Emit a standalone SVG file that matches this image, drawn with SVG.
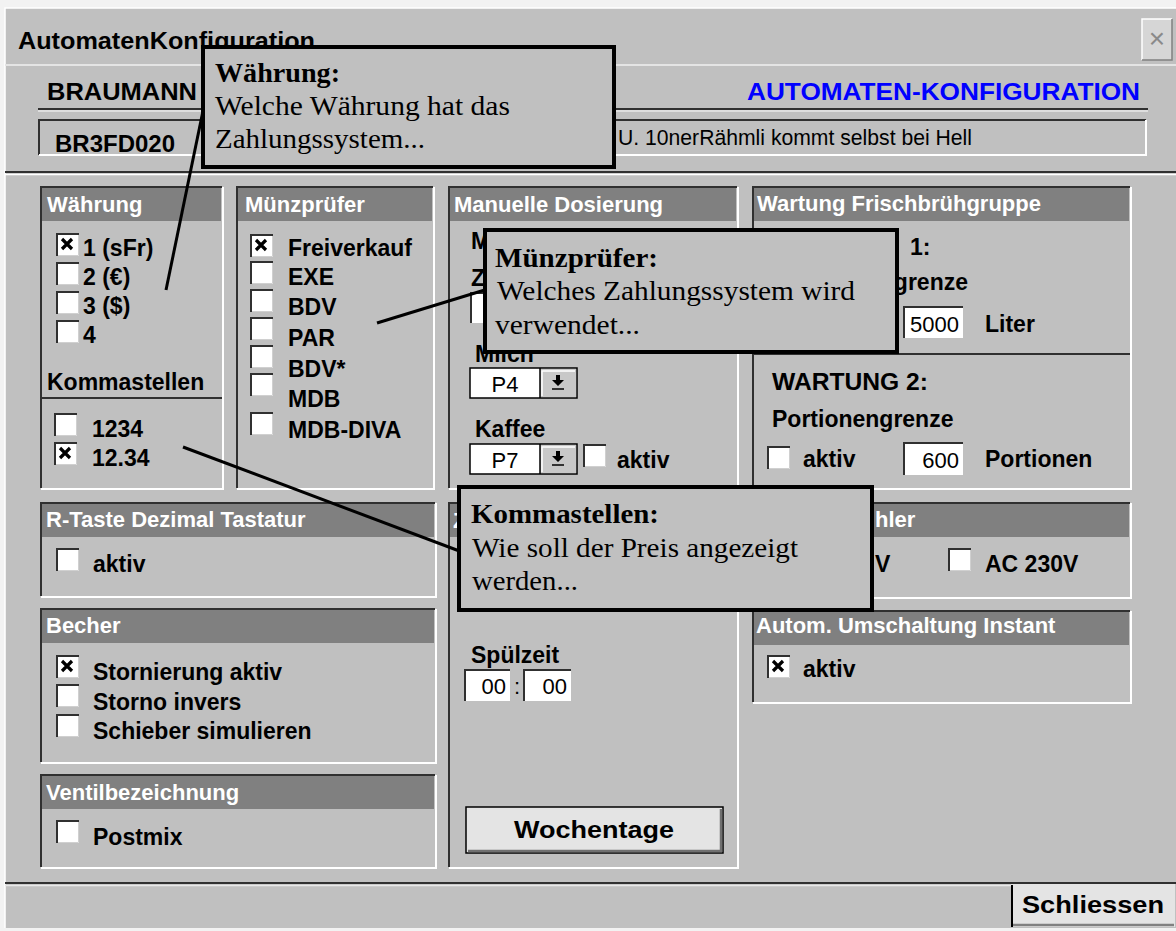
<svg xmlns="http://www.w3.org/2000/svg" width="1176" height="931" viewBox="0 0 1176 931">
<style>
.ht{font-family:"Liberation Sans",Arial,sans-serif;font-weight:bold;font-size:22px;fill:#fff}
.t{font-family:"Liberation Sans",Arial,sans-serif;font-weight:bold;font-size:23px;fill:#000}
.n{font-family:"Liberation Sans",Arial,sans-serif;font-size:22px;fill:#000}
.hdr{fill:#808080}
.dk{stroke:#303030;stroke-width:2;fill:none}
.lt{stroke:#fff;stroke-width:2;fill:none}
.fld{fill:#fff}
.co{fill:#c0c0c0;stroke:#000;stroke-width:4}
.ct{font-family:"Liberation Serif","Times New Roman",serif;font-size:27px;fill:#000}
.cb{font-weight:bold}
.conn line{stroke:#000;stroke-width:3}
</style>
<defs>
<g id="cb"><rect width="23" height="23" fill="#fff"/><path d="M1,23V1H23" stroke="#303030" stroke-width="2" fill="none"/><path d="M2,22.5H22.5V2" stroke="#d0d0d0" stroke-width="1" fill="none"/></g>
<g id="cbx"><use href="#cb"/><path d="M6,6L16,16M16,6L6,16" stroke="#000" stroke-width="3.2"/></g>
<g id="arr"><path d="M-2,-8h4v5h4l-6,6l-6,-6h4z" fill="#000"/><path d="M-6,6h12" stroke="#000" stroke-width="1.5"/></g>
</defs>

<rect width="1176" height="931" fill="#f2f2f2"/>
<g id="dialog">
<rect x="5" y="8" width="1171" height="920" fill="#c0c0c0"/>
<path d="M5,928V8H1176" stroke="#fff" stroke-width="1.5" fill="none"/>
<line x1="5" y1="65" x2="1176" y2="65" stroke="#e4e4e4" stroke-width="2"/>
<text x="18" y="49" class="t" font-size="22" textLength="297" lengthAdjust="spacingAndGlyphs">AutomatenKonfiguration</text>
<rect x="1142" y="19" width="30" height="41" fill="#d6d6d6"/>
<path d="M1142,60V19H1172" stroke="#fff" stroke-width="1.5" fill="none"/>
<path d="M1172,19V60H1142" stroke="#808080" stroke-width="1.5" fill="none"/>
<text x="1157" y="48" font-family="Liberation Sans,sans-serif" font-size="28" fill="#8a8a8a" text-anchor="middle">×</text>
</g>

<g id="header">
<text x="47" y="100" class="t" font-size="24" textLength="150" lengthAdjust="spacingAndGlyphs">BRAUMANN</text>
<text x="747" y="100" class="t" font-size="24" fill="#0000ff" style="fill:#0000ff" textLength="393" lengthAdjust="spacingAndGlyphs">AUTOMATEN-KONFIGURATION</text>
<line x1="38" y1="109" x2="1148" y2="109" stroke="#303030" stroke-width="2"/>
<line x1="38" y1="111" x2="1148" y2="111" stroke="#e8e8e8" stroke-width="1.5"/>
<path d="M39,155V120H1146" class="dk"/>
<path d="M1146,120V155H39" class="lt"/>
<text x="55" y="152" class="t" font-size="24" textLength="120" lengthAdjust="spacingAndGlyphs">BR3FD020</text>
<text x="618" y="145" class="n" textLength="354" lengthAdjust="spacingAndGlyphs">U. 10nerRähmli kommt selbst bei Hell</text>
<line x1="5" y1="172" x2="1176" y2="172" stroke="#303030" stroke-width="2"/>
<line x1="5" y1="174.5" x2="1176" y2="174.5" stroke="#fff" stroke-width="1.5"/>
</g>

<g id="panel-waehrung">
<rect x="42" y="188" width="179" height="33" class="hdr"/>
<path d="M41,488V187H222" class="dk"/><path d="M223,187V489H41" class="lt"/>
<text x="47" y="212" class="ht">Währung</text>
<use href="#cbx" x="56" y="233"/><text x="83" y="256" class="t">1 (sFr)</text>
<use href="#cb" x="56" y="262"/><text x="83" y="285" class="t">2 (€)</text>
<use href="#cb" x="56" y="291"/><text x="83" y="314" class="t">3 ($)</text>
<use href="#cb" x="56" y="320"/><text x="83" y="343" class="t">4</text>
<text x="47" y="390" class="t">Kommastellen</text>
<line x1="41" y1="398" x2="222" y2="398" stroke="#303030" stroke-width="2"/>
<use href="#cb" x="54" y="413"/><text x="92" y="437" class="t">1234</text>
<use href="#cbx" x="54" y="442"/><text x="92" y="466" class="t">12.34</text>
</g>

<g id="panel-muenzpruefer">
<rect x="238" y="188" width="194" height="33" class="hdr"/>
<path d="M237,488V187H433" class="dk"/><path d="M434,187V489H237" class="lt"/>
<text x="245" y="212" class="ht">Münzprüfer</text>
<use href="#cbx" x="250" y="234"/><text x="288" y="256" class="t">Freiverkauf</text>
<use href="#cb" x="250" y="261"/><text x="288" y="285" class="t">EXE</text>
<use href="#cb" x="250" y="289"/><text x="288" y="315" class="t">BDV</text>
<use href="#cb" x="250" y="317"/><text x="288" y="346" class="t">PAR</text>
<use href="#cb" x="250" y="345"/><text x="288" y="377" class="t">BDV*</text>
<use href="#cb" x="250" y="373"/><text x="288" y="407" class="t">MDB</text>
<use href="#cb" x="250" y="412"/><text x="288" y="438" class="t">MDB-DIVA</text>
</g>

<g id="panel-dosierung">
<rect x="450" y="188" width="286" height="33" class="hdr"/>
<path d="M449,488V187H737" class="dk"/><path d="M738,187V489H449" class="lt"/>
<text x="454" y="212" class="ht">Manuelle Dosierung</text>
<text x="471" y="249" class="t">M</text>
<text x="471" y="286" class="t">Z</text>
<rect x="470" y="292" width="40" height="31" class="fld"/><path d="M471,323V293H510" class="dk"/>
<text x="475" y="362" class="t">Milch</text>
<rect x="470" y="368" width="107" height="30" fill="#fff" stroke="#000" stroke-width="1.5"/>
<rect x="540" y="369" width="36" height="28" fill="#c8c8c8"/>
<line x1="540" y1="368" x2="540" y2="398" stroke="#000" stroke-width="1.5"/>
<path d="M542,396V371H575" stroke="#fff" stroke-width="1.5" fill="none"/>
<use href="#arr" x="558" y="383"/>
<text x="505" y="392" class="n" text-anchor="middle">P4</text>
<text x="475" y="437" class="t">Kaffee</text>
<rect x="470" y="444" width="107" height="30" fill="#fff" stroke="#000" stroke-width="1.5"/>
<rect x="540" y="445" width="36" height="28" fill="#c8c8c8"/>
<line x1="540" y1="444" x2="540" y2="474" stroke="#000" stroke-width="1.5"/>
<path d="M542,472V447H575" stroke="#fff" stroke-width="1.5" fill="none"/>
<use href="#arr" x="558" y="459"/>
<text x="505" y="468" class="n" text-anchor="middle">P7</text>
<use href="#cb" x="583" y="444"/><text x="617" y="468" class="t">aktiv</text>
</g>

<g id="panel-wartung">
<rect x="754" y="188" width="375" height="33" class="hdr"/>
<path d="M753,488V187H1130" class="dk"/><path d="M1131,187V489H753" class="lt"/>
<text x="757" y="211" class="ht">Wartung Frischbrühgruppe</text>
<text x="910" y="255" class="t">1:</text>
<text x="968" y="290" class="t" text-anchor="end">grenze</text>
<rect x="903" y="306" width="60" height="32" class="fld"/><path d="M904,338V307H963" class="dk"/>
<text x="959" y="332" class="n" text-anchor="end">5000</text>
<text x="985" y="332" class="t">Liter</text>
<line x1="753" y1="354" x2="1130" y2="354" stroke="#303030" stroke-width="2"/>
<text x="772" y="390" class="t" textLength="156" lengthAdjust="spacingAndGlyphs">WARTUNG 2:</text>
<text x="772" y="427" class="t">Portionengrenze</text>
<use href="#cb" x="767" y="446"/><text x="803" y="467" class="t">aktiv</text>
<rect x="903" y="442" width="60" height="33" class="fld"/><path d="M904,475V443H963" class="dk"/>
<text x="959" y="468" class="n" text-anchor="end">600</text>
<text x="985" y="467" class="t">Portionen</text>
</g>

<g id="panel-rtaste">
<rect x="42" y="504" width="392" height="33" class="hdr"/>
<path d="M41,596V503H435" class="dk"/><path d="M436,503V597H41" class="lt"/>
<text x="46" y="527" class="ht">R-Taste Dezimal Tastatur</text>
<use href="#cb" x="56" y="548"/><text x="93" y="572" class="t">aktiv</text>
</g>

<g id="panel-becher">
<rect x="42" y="610" width="392" height="33" class="hdr"/>
<path d="M41,762V609H435" class="dk"/><path d="M436,609V763H41" class="lt"/>
<text x="46" y="633" class="ht">Becher</text>
<use href="#cbx" x="56" y="655"/><text x="93" y="680" class="t">Stornierung aktiv</text>
<use href="#cb" x="56" y="684"/><text x="93" y="710" class="t">Storno invers</text>
<use href="#cb" x="56" y="714"/><text x="93" y="739" class="t">Schieber simulieren</text>
</g>

<g id="panel-ventil">
<rect x="42" y="776" width="392" height="33" class="hdr"/>
<path d="M41,867V775H435" class="dk"/><path d="M436,775V868H41" class="lt"/>
<text x="46" y="800" class="ht">Ventilbezeichnung</text>
<use href="#cb" x="56" y="820"/><text x="93" y="845" class="t">Postmix</text>
</g>

<g id="panel-z">
<rect x="450" y="504" width="286" height="33" class="hdr"/>
<path d="M449,867V503H737" class="dk"/><path d="M738,503V868H449" class="lt"/>
<text x="453" y="528" class="ht">Z</text>
<text x="471" y="663" class="t">Spülzeit</text>
<rect x="464" y="669" width="46" height="32" class="fld"/><path d="M465,701V670H510" class="dk"/>
<text x="506" y="694" class="n" text-anchor="end">00</text>
<text x="514" y="694" class="n">:</text>
<rect x="523" y="669" width="48" height="32" class="fld"/><path d="M524,701V670H571" class="dk"/>
<text x="567" y="694" class="n" text-anchor="end">00</text>
<rect x="466" y="807" width="257" height="46" fill="#e4e4e4" stroke="#000" stroke-width="1.5"/>
<path d="M468,851H721V809" stroke="#707070" stroke-width="2.5" fill="none"/>
<text x="594" y="838" class="t" font-size="25" text-anchor="middle" textLength="160" lengthAdjust="spacingAndGlyphs">Wochentage</text>
</g>

<g id="panel-hler">
<rect x="754" y="504" width="375" height="33" class="hdr"/>
<path d="M753,597V503H1130" class="dk"/><path d="M1131,503V598H753" class="lt"/>
<text x="875" y="527" class="ht">hler</text>
<text x="875" y="572" class="t">V</text>
<use href="#cb" x="948" y="548"/><text x="985" y="572" class="t">AC 230V</text>
</g>

<g id="panel-autom">
<rect x="754" y="612" width="375" height="33" class="hdr"/>
<path d="M753,702V611H1130" class="dk"/><path d="M1131,611V703H753" class="lt"/>
<text x="756" y="633" class="ht">Autom. Umschaltung Instant</text>
<use href="#cbx" x="767" y="655"/><text x="803" y="677" class="t">aktiv</text>
</g>

<g id="footer">
<line x1="5" y1="883" x2="1176" y2="883" stroke="#303030" stroke-width="2"/>
<line x1="5" y1="885.5" x2="1011" y2="885.5" stroke="#e8e8e8" stroke-width="1.5"/>
<rect x="1011" y="884" width="164" height="43" fill="#e4e4e4"/>
<path d="M1012,927V885" stroke="#000" stroke-width="2"/>
<path d="M1013,925H1174" stroke="#808080" stroke-width="2.5"/>
<text x="1093" y="913" class="t" font-size="25" text-anchor="middle" textLength="142" lengthAdjust="spacingAndGlyphs">Schliessen</text>
</g>

<g id="connectors" class="conn">
<line x1="166" y1="290" x2="204" y2="106"/>
<line x1="377" y1="323" x2="488" y2="289"/>
<line x1="183" y1="447" x2="462" y2="552"/>
</g>

<g id="callout-waehrung">
<rect x="203" y="47" width="411" height="120" class="co"/>
<text x="215" y="82" class="ct cb" textLength="125" lengthAdjust="spacingAndGlyphs">Währung:</text>
<text x="215" y="115" class="ct" textLength="295" lengthAdjust="spacingAndGlyphs">Welche Währung hat das</text>
<text x="215" y="148" class="ct" textLength="210" lengthAdjust="spacingAndGlyphs">Zahlungssystem...</text>
</g>

<g id="callout-muenzpruefer">
<rect x="485" y="230" width="412" height="122" class="co"/>
<text x="495" y="267" class="ct cb" textLength="163" lengthAdjust="spacingAndGlyphs">Münzprüfer:</text>
<text x="497" y="300" class="ct" textLength="358" lengthAdjust="spacingAndGlyphs">Welches Zahlungssystem wird</text>
<text x="495" y="334" class="ct" textLength="145" lengthAdjust="spacingAndGlyphs">verwendet...</text>
</g>

<g id="callout-kommastellen">
<rect x="459" y="487" width="413" height="123" class="co"/>
<text x="471" y="523" class="ct cb" textLength="188" lengthAdjust="spacingAndGlyphs">Kommastellen:</text>
<text x="472" y="557" class="ct" textLength="326" lengthAdjust="spacingAndGlyphs">Wie soll der Preis angezeigt</text>
<text x="472" y="590" class="ct" textLength="106" lengthAdjust="spacingAndGlyphs">werden...</text>
</g>
</svg>
